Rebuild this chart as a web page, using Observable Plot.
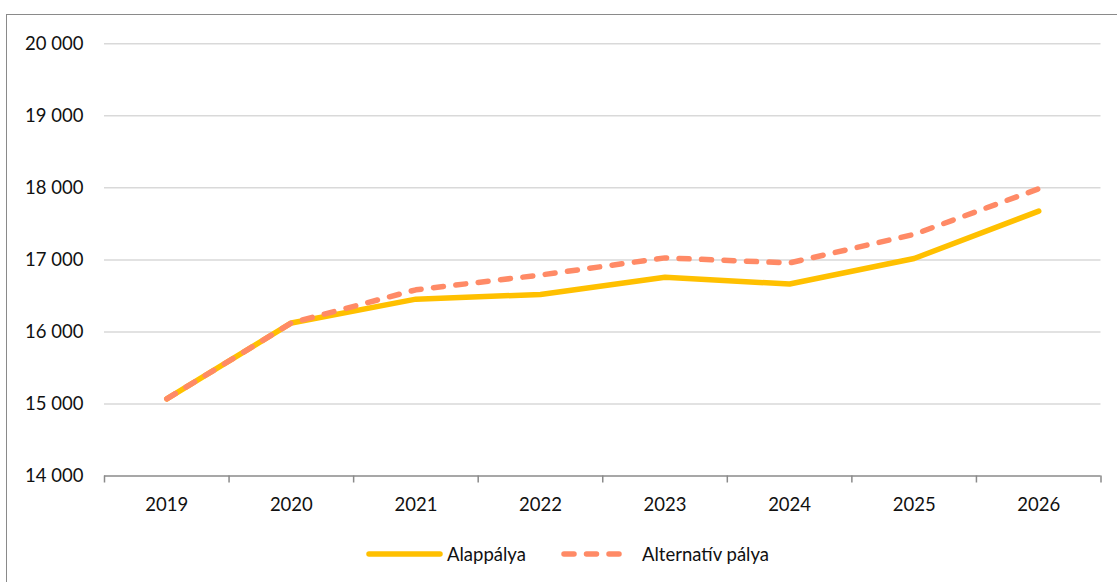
<!DOCTYPE html>
<html>
<head>
<meta charset="utf-8">
<script src="https://cdn.jsdelivr.net/npm/d3@7"></script>
<script src="https://cdn.jsdelivr.net/npm/@observablehq/plot@0.6"></script>
<style>
  html, body { margin: 0; padding: 0; background: #fff; overflow: hidden; }
  body { width: 1117px; height: 582px; position: relative; font-family: Lato, "Open Sans", sans-serif; }
  #frame { position: absolute; left: 6px; top: 14px; width: 1300px; height: 800px; border: 1.5px solid #8a8a8a; box-sizing: border-box; }
  #chart { position: absolute; left: 0; top: 0; }
  #legend { position: absolute; left: 0; top: 541px; width: 1117px; height: 26px; }
  .item { position: absolute; top: 0; height: 26px; display: flex; align-items: center; font-size: 18.5px; color: #111; }
</style>
</head>
<body>
<div id="frame"></div>
<div id="chart"></div>
<div id="legend"></div>
<script>
// Years on the category axis
const years = [2019, 2020, 2021, 2022, 2023, 2024, 2025, 2026];
// Series values
const alappalya = [15070, 16125, 16455, 16520, 16758, 16665, 17020, 17678];
const alternativ = [15070, 16125, 16585, 16790, 17028, 16958, 17355, 17988];
// Y axis ticks
const yTicks = [14000, 15000, 16000, 17000, 18000, 19000, 20000];

const seriesNames = ["Alappálya", "Alternatív pálya"];
const colors = ["#FFC000", "#FF8A66"];

const rows = [
  ...years.map((y, i) => ({year: y, value: alappalya[i], series: seriesNames[0]})),
  ...years.map((y, i) => ({year: y, value: alternativ[i], series: seriesNames[1]}))
];

// Category boundaries, where the x-axis tick marks sit
const bounds = d3.range(years.length + 1).map(i => years[0] - 0.5 + i);

const loc = d3.formatLocale({decimal: ",", thousands: " ", grouping: [3], currency: ["", ""]});
const fmt = loc.format(",");

const dash = "10,12.5";

const chart = Plot.plot({
  width: 1117,
  height: 520,
  marginLeft: 104,
  marginRight: 16.5,
  marginTop: 43.3,
  marginBottom: 44.5,
  style: {fontFamily: "Lato, 'Open Sans', sans-serif", fontSize: "18.5px", color: "#111", background: "transparent"},
  x: {type: "linear", domain: [bounds[0], bounds[bounds.length - 1]]},
  y: {domain: [14000, 20000]},
  marks: [
    Plot.gridY(yTicks.slice(1), {stroke: "#d9d9d9", strokeOpacity: 1, strokeWidth: 1.5}),
    Plot.axisY(yTicks, {tickSize: 0, tickPadding: 21, tickFormat: fmt, fontSize: 18.5, label: null}),
    Plot.ruleY([14000], {stroke: "#8a8a8a", strokeWidth: 1.6}),
    Plot.axisX(bounds, {tickSize: 7, stroke: "#8a8a8a", strokeWidth: 1.5, tickFormat: () => "", label: null}),
    Plot.axisX(years, {tickSize: 0, tickPadding: 22, tickFormat: d => String(d), fontSize: 18.5, label: null}),
    Plot.line(rows.filter(d => d.series === seriesNames[0]), {
      x: "year", y: "value", stroke: colors[0], strokeWidth: 5.5, strokeLinecap: "round", strokeLinejoin: "round"
    }),
    Plot.line(rows.filter(d => d.series === seriesNames[1]), {
      x: "year", y: "value", stroke: colors[1], strokeWidth: 5.5, strokeLinecap: "round", strokeLinejoin: "round",
      strokeDasharray: dash
    })
  ]
});
document.getElementById("chart").append(chart);

// Legend below the plot
const legend = document.getElementById("legend");
const items = [
  {name: seriesNames[0], color: colors[0], dash: null, left: 366, len: 77, gap: 4},
  {name: seriesNames[1], color: colors[1], dash: dash, left: 561, len: 68, gap: 13}
];
for (const it of items) {
  const div = document.createElement("div");
  div.className = "item";
  div.style.left = it.left + "px";
  const s = d3.create("svg").attr("width", it.len).attr("height", 12).style("margin-right", it.gap + "px");
  s.append("line")
    .attr("x1", 3).attr("x2", it.len - 3).attr("y1", 6).attr("y2", 6)
    .attr("stroke", it.color).attr("stroke-width", 5.5).attr("stroke-linecap", "round")
    .attr("stroke-dasharray", it.dash);
  div.append(s.node());
  const t = document.createElement("span");
  t.textContent = it.name;
  div.append(t);
  legend.append(div);
}
</script>
</body>
</html>
